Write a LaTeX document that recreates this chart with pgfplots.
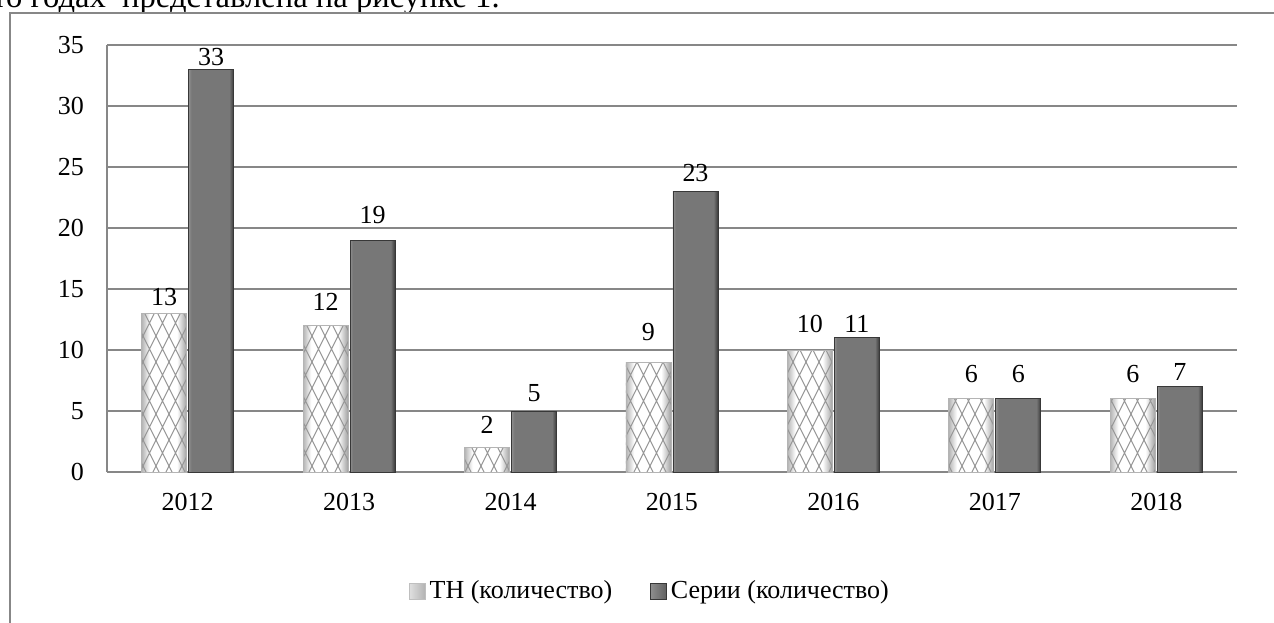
\documentclass[border=0pt]{standalone}
\usepackage{fontspec}
\setmainfont{Liberation Serif}
\usepackage{pgfplots}
\pgfplotsset{compat=1.18}
\usetikzlibrary{patterns}

\definecolor{gridgray}{HTML}{878787}
\definecolor{thedge}{HTML}{B4B4B4}
\definecolor{thedgeR}{HTML}{A0A0A0}
\definecolor{hatch}{HTML}{969696}
\definecolor{serlight}{HTML}{8E8E8E}
\definecolor{serbody}{HTML}{777777}
\definecolor{serdark}{HTML}{383838}

% diamond cross-hatching of the TH bars
\pgfdeclarepatternformonly{diamonds}{\pgfqpoint{-1pt}{-1pt}}{\pgfqpoint{7.5pt}{14pt}}{\pgfqpoint{6.5pt}{13pt}}{%
  \pgfsetlinewidth{0.5pt}%
  \pgfpathmoveto{\pgfqpoint{0pt}{0pt}}\pgfpathlineto{\pgfqpoint{6.5pt}{13pt}}%
  \pgfpathmoveto{\pgfqpoint{0pt}{13pt}}\pgfpathlineto{\pgfqpoint{6.5pt}{0pt}}%
  \pgfusepath{stroke}}

% left-to-right shadings, the middle 50bp is stretched over each bar
\pgfdeclarehorizontalshading{thshade}{100bp}{color(0bp)=(thedge); color(25bp)=(thedge);
  color(34bp)=(white); color(64bp)=(white); color(75bp)=(thedgeR); color(100bp)=(thedgeR)}
\pgfdeclarehorizontalshading{sershade}{100bp}{color(0bp)=(serlight); color(25bp)=(serlight);
  color(28bp)=(serbody); color(70bp)=(serbody); color(75bp)=(serdark); color(100bp)=(serdark)}

% thdy, serdy: extra lift of the value labels (pt), as placed in the original
\pgfplotstableread{
x th ser thdy serdy
0 13 33 0.2 -1.5
1 12 19 3.8 4.5
2 2  5  3.3 1.0
3 9  23 7.0 1.2
4 10 11 5.0 -1.0
5 6  6  4.5 4.5
6 6  7  4.5 -0.3
}\datatable

\begin{document}
\begin{tikzpicture}
\useasboundingbox (0,0) rectangle (637pt,311pt);
% text of the page above the chart, cut at the top
\node[anchor=base west, inner sep=0pt, font=\fontsize{16.3}{18}\selectfont] at (-4pt,307pt)
  {то годах\ \ представлена на рисунке 1.};
% chart frame
\draw[gridgray, line width=0.8pt] (5pt,-5pt) -- (5pt,304.5pt) -- (640pt,304.5pt);

\begin{axis}[
  at={(53.5pt,75pt)}, anchor=south west,
  scale only axis, width=565pt, height=213.5pt,
  ybar, bar width=22.5pt,
  xmin=-0.5, xmax=6.5, ymin=0, ymax=35,
  xtick={0,...,6}, xticklabels={2012,2013,2014,2015,2016,2017,2018},
  ytick={0,5,...,35},
  major tick length=0pt,
  axis x line*=bottom, axis y line*=left,
  axis line style={gridgray, line width=0.8pt},
  ymajorgrids, grid style={gridgray, line width=0.8pt},
  /pgf/number format/assume math mode=true,
  tick label style={font=\fontsize{13}{15}\selectfont, black},
  xticklabel style={yshift=-7pt},
  yticklabel style={xshift=-8pt},
  legend style={draw=none, fill=none, at={(0.4814,-0.279)}, anchor=center,
    legend columns=2, font=\fontsize{13}{15}\selectfont,
    /tikz/every even column/.append style={column sep=17pt}},
]
\addlegendimage{legend image code/.code={
  \shade[left color=gray!25, right color=gray!60, draw=gray!50, line width=0.3pt] (0pt,-4pt) rectangle (8pt,4pt);}}
\addlegendentry{ТН (количество)}
\addlegendimage{legend image code/.code={
  \shade[left color=serlight, right color=serdark!80, draw=serdark, line width=0.3pt] (0pt,-4pt) rectangle (8pt,4pt);}}
\addlegendentry{Серии (количество)}
% one bar per plot, so that each shading fits its own bar
\pgfplotsinvokeforeach{0,...,6}{
  \addplot[forget plot, shading=thshade, draw=none, bar shift=-11.75pt,
    x filter/.expression={abs(x-#1)<0.1 ? x : nan}]
    table[x=x, y=th] {\datatable};
  \addplot[forget plot, pattern=diamonds, pattern color=hatch, draw=thedge, line width=0.4pt,
    bar shift=-11.75pt, nodes near coords,
    visualization depends on={\thisrow{thdy} \as \labdy},
    nodes near coords style={font=\fontsize{13}{15}\selectfont, black, yshift=\labdy pt},
    x filter/.expression={abs(x-#1)<0.1 ? x : nan}]
    table[x=x, y=th] {\datatable};
  \addplot[forget plot, shading=sershade, draw=serdark, line width=0.4pt, bar shift=11.75pt,
    nodes near coords,
    visualization depends on={\thisrow{serdy} \as \labdy},
    nodes near coords style={font=\fontsize{13}{15}\selectfont, black, yshift=\labdy pt},
    x filter/.expression={abs(x-#1)<0.1 ? x : nan}]
    table[x=x, y=ser] {\datatable};
}
\end{axis}
\end{tikzpicture}
\end{document}
